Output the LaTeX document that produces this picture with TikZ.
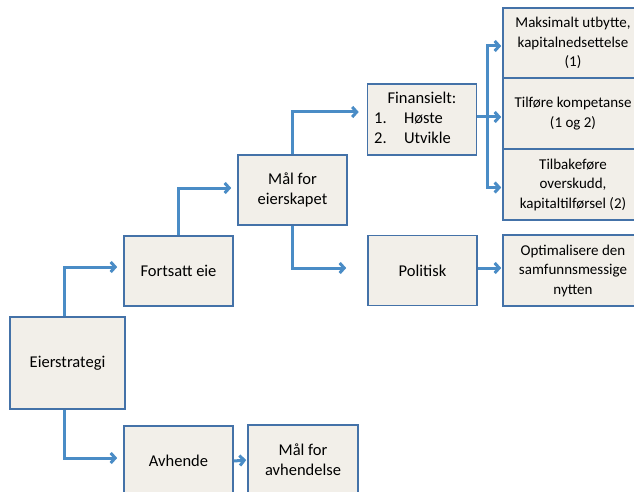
\documentclass[tikz,border=0pt]{standalone}
\usepackage{fontspec}
\setmainfont{Carlito}
\usepackage{xcolor}
\usepackage{tikz}
\usetikzlibrary{arrows.meta}
\definecolor{boxfill}{HTML}{F2EFE9}
\definecolor{boxline}{HTML}{4472A8}
\definecolor{arrowblue}{HTML}{4A8CC6}
\tikzset{
  box/.style   = {shape=rectangle, draw=boxline, fill=boxfill,
                  line width=1.6pt, align=center, inner sep=0pt,
                  minimum width=109pt, minimum height=70pt,
                  font=\fontsize{16.5}{20}\selectfont},
  goal/.style  = {box, minimum width=140pt,
                  font=\fontsize{15}{19.5}\selectfont},
  arrow/.style = {draw=arrowblue, line width=3pt,
                  -{Straight Barb[length=4.5pt,width=10pt]}},
  bus/.style   = {draw=arrowblue, line width=3pt}
}
\begin{document}
\begin{tikzpicture}[x=1pt, y=-1pt]
  \useasboundingbox (0,0) rectangle (634,492);
  \clip (0,0) rectangle (634,492);
  \node [box, minimum width=115pt, minimum height=92pt] (eier) at (67.5,363) {Eierstrategi};
  \node [box] (fort) at (178.5,271) {Fortsatt eie};
  \node [box] (avh) at (178.5,461) {Avhende};
  \node [box, minimum width=110pt] (avhmaal) at (303,460) {Mål for\\avhendelse};
  \node [box] (maal) at (292.5,190) {Mål for\\eierskapet};
  \node [box, minimum height=71pt] (fin) at (422,119.5)
    {\begin{tabular}{@{}l@{\hspace{1.05em}}l@{\hspace{19pt}}}
       \multicolumn{2}{c}{Finansielt:}\\
       1. & Høste\\
       2. & Utvikle
     \end{tabular}};
  \node [box] (pol) at (422.5,270.5) {Politisk};
  \node [goal] (utbytte) at (573,43) {Maksimalt utbytte,\\kapitalnedsettelse\\(1)};
  \node [goal, minimum height=71pt] (kompetanse) at (573,113.5) {Tilføre kompetanse\\(1 og 2)};
  \node [goal, minimum height=71pt] (overskudd) at (573,184.5) {Tilbakeføre\\overskudd,\\kapitaltilførsel (2)};
  \node [goal, minimum height=71pt] (nytte) at (573,270.5) {Optimalisere den\\samfunnsmessige\\nytten};
  \coordinate (split) at (487,117);

  \draw [arrow, shorten >=6pt] ([xshift=-3.5pt]eier.north) |- ([yshift=4pt]fort.west);
  \draw [arrow, shorten >=6pt] ([xshift=-3.5pt]eier.south) |- ([yshift=3pt]avh.west);
  \draw [arrow, shorten >=1pt] (avh.east) -- (avhmaal.west);
  \draw [arrow, shorten >=6pt] (fort.north) |- ([yshift=2pt]maal.west);
  \draw [arrow, shorten >=8pt] (maal.north) |- ([yshift=7.5pt]fin.west);
  \draw [arrow, shorten >=21pt] (maal.south) |- ([yshift=2.5pt]pol.west);
  \draw [arrow, shorten >=1pt] ([yshift=2.5pt]pol.east) -- ([yshift=2.5pt]nytte.west);
  \draw [bus] (fin.east |- split) -- (split);
  \draw [bus, line cap=rect] ([yshift=-3pt]split |- utbytte.west) -- ([yshift=-3pt]split |- overskudd.west);
  \draw [arrow, shorten >=1pt] ([yshift=-3pt]split |- utbytte.west) -- ([yshift=-3pt]utbytte.west);
  \draw [arrow, shorten >=1pt] ([yshift=-3.5pt]split |- kompetanse.west) -- ([yshift=-3.5pt]kompetanse.west);
  \draw [arrow, shorten >=1pt] ([yshift=-3pt]split |- overskudd.west) -- ([yshift=-3pt]overskudd.west);
\end{tikzpicture}
\end{document}
